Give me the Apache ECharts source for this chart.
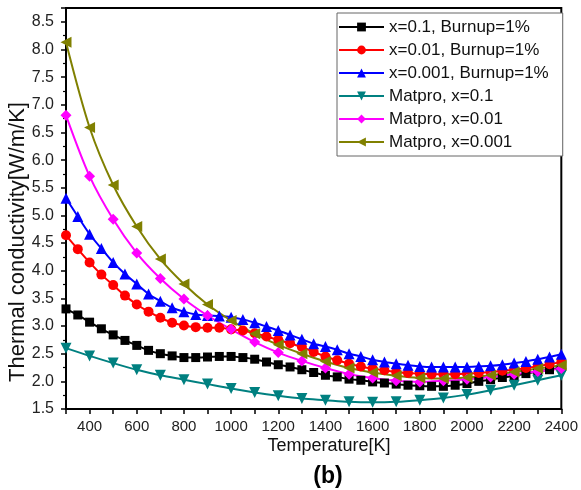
<!DOCTYPE html>
<html>
<head>
<meta charset="utf-8">
<script src="https://cdn.jsdelivr.net/npm/echarts@6/dist/echarts.min.js"></script>
<style>
html,body{margin:0;padding:0;background:#fff;}
#c{width:581px;height:490px;}
</style>
</head>
<body>
<div id="c"></div>
<script>
// Temperatures (K)
const T50 = [300,350,400,450,500,550,600,650,700,750,800,850,900,950,1000,1050,1100,1150,1200,1250,1300,1350,1400,1450,1500,1550,1600,1650,1700,1750,1800,1850,1900,1950,2000,2050,2100,2150,2200,2250,2300,2350,2400];
const T100 = [300,400,500,600,700,800,900,1000,1100,1200,1300,1400,1500,1600,1700,1800,1900,2000,2100,2200,2300,2400];

// Series values (W/m/K)
const burnupX01 = [3.31,3.20,3.07,2.95,2.84,2.74,2.65,2.56,2.50,2.46,2.43,2.43,2.44,2.45,2.45,2.43,2.40,2.35,2.30,2.26,2.21,2.16,2.11,2.08,2.04,2.02,1.99,1.97,1.95,1.93,1.92,1.91,1.91,1.93,1.96,2.00,2.03,2.07,2.10,2.14,2.18,2.21,2.25];
const burnupX001 = [4.64,4.39,4.15,3.93,3.74,3.55,3.39,3.26,3.15,3.06,3.01,2.98,2.97,2.97,2.94,2.92,2.87,2.81,2.75,2.69,2.62,2.53,2.45,2.38,2.32,2.27,2.23,2.20,2.17,2.15,2.14,2.13,2.13,2.13,2.14,2.15,2.17,2.19,2.21,2.24,2.27,2.31,2.35];
const burnupX0001 = [5.31,4.98,4.66,4.40,4.15,3.94,3.76,3.58,3.45,3.33,3.26,3.21,3.19,3.18,3.16,3.12,3.06,2.99,2.92,2.84,2.76,2.68,2.63,2.57,2.50,2.45,2.39,2.35,2.32,2.29,2.27,2.26,2.26,2.26,2.26,2.27,2.28,2.30,2.33,2.36,2.40,2.44,2.49];
const matproX01 = [2.60,2.46,2.33,2.21,2.11,2.03,1.95,1.87,1.80,1.74,1.69,1.66,1.63,1.62,1.63,1.66,1.70,1.76,1.84,1.93,2.02,2.11];
const matproX001 = [6.81,5.71,4.93,4.32,3.86,3.49,3.19,2.94,2.71,2.52,2.37,2.24,2.13,2.06,2.01,1.99,2.01,2.04,2.08,2.13,2.18,2.23];
const matproX0001 = [8.13,6.59,5.55,4.80,4.21,3.76,3.39,3.10,2.86,2.66,2.50,2.36,2.24,2.16,2.10,2.06,2.05,2.07,2.11,2.17,2.23,2.29];

const seriesNames = ['x=0.1, Burnup=1%','x=0.01, Burnup=1%','x=0.001, Burnup=1%','Matpro, x=0.1','Matpro, x=0.01','Matpro, x=0.001'];
const xTitle = 'Temperature[K]';
const yTitle = 'Thermal conductivity[W/m/K]';
const panelTag = '(b)';

const zip = (xs, ys) => xs.map((x, i) => [x, ys[i]]);

const FONT = 'Liberation Sans, Arial, sans-serif';

function mk(name, xs, ys, color, symbol, size, rotate, smooth) {
  return {
    name: name, type: 'line', data: zip(xs, ys),
    symbol: symbol, symbolSize: size, symbolRotate: rotate || 0,
    smooth: smooth, showSymbol: true,
    lineStyle: {color: color, width: 2},
    itemStyle: {color: color, borderWidth: 0},
    emphasis: {disabled: true},
    animation: false
  };
}

const chart = echarts.init(document.getElementById('c'), null, {renderer: 'canvas'});
chart.setOption({
  backgroundColor: '#fff',
  animation: false,
  grid: {left: 66, right: 17, top: 8, bottom: 81, show: true, borderColor: '#000', borderWidth: 2},
  legend: {
    orient: 'vertical', left: 337, top: 13,
    itemWidth: 45, itemHeight: 11, itemGap: 5,
    padding: [5, 14, 5, 1],
    borderColor: '#666', borderWidth: 1, backgroundColor: '#fff',
    textStyle: {fontFamily: FONT, fontSize: 17, color: '#111', lineHeight: 18},
    data: seriesNames
  },
  xAxis: {
    type: 'value', min: 300, max: 2400, interval: 100,
    axisLine: {lineStyle: {color: '#000', width: 2}},
    axisTick: {show: true, inside: false, length: 5, lineStyle: {color: '#000', width: 1.5}},
    axisLabel: {fontFamily: FONT, fontSize: 15, color: '#222', margin: 10,
      formatter: v => (v % 200 === 0 ? String(v) : '')},
    splitLine: {show: false}
  },
  yAxis: {
    type: 'value', min: 1.5, max: 8.75, interval: 0.5,
    axisLine: {lineStyle: {color: '#000', width: 2}},
    axisTick: {show: true, inside: false, length: 5, lineStyle: {color: '#000', width: 1.5}},
    minorTick: {show: true, splitNumber: 2, length: 3, lineStyle: {color: '#000', width: 1.2}},
    axisLabel: {fontFamily: FONT, fontSize: 16, color: '#222', margin: 12,
      formatter: v => (Math.abs(v * 2 - Math.round(v * 2)) < 1e-6 ? v.toFixed(1) : '')},
    splitLine: {show: false}
  },
  graphic: [
    {type: 'text', x: 329, y: 446,
     style: {text: xTitle, font: '18px ' + FONT, fill: '#111', textAlign: 'center', textVerticalAlign: 'middle'}},
    {type: 'text', x: 18, y: 242, rotation: Math.PI / 2,
     style: {text: yTitle, font: '22px ' + FONT, fill: '#111', textAlign: 'center', textVerticalAlign: 'middle'}},
    {type: 'text', x: 328, y: 477,
     style: {text: panelTag, font: 'bold 23px ' + FONT, fill: '#000', textAlign: 'center', textVerticalAlign: 'middle'}}
  ],
  series: [
    mk(seriesNames[0], T50, burnupX01, '#000000', 'rect', 9, 0, 0.2),
    mk(seriesNames[1], T50, burnupX001, '#ff0000', 'circle', 10, 0, 0.2),
    mk(seriesNames[2], T50, burnupX0001, '#0000ff', 'triangle', 11, 0, 0.2),
    mk(seriesNames[3], T100, matproX01, '#008080', 'triangle', 11, 180, 0.3),
    mk(seriesNames[4], T100, matproX001, '#ff00ff', 'diamond', 11, 0, 0.3),
    mk(seriesNames[5], T100, matproX0001, '#808000', 'triangle', 11, 90, 0.3)
  ]
});
</script>
</body>
</html>
